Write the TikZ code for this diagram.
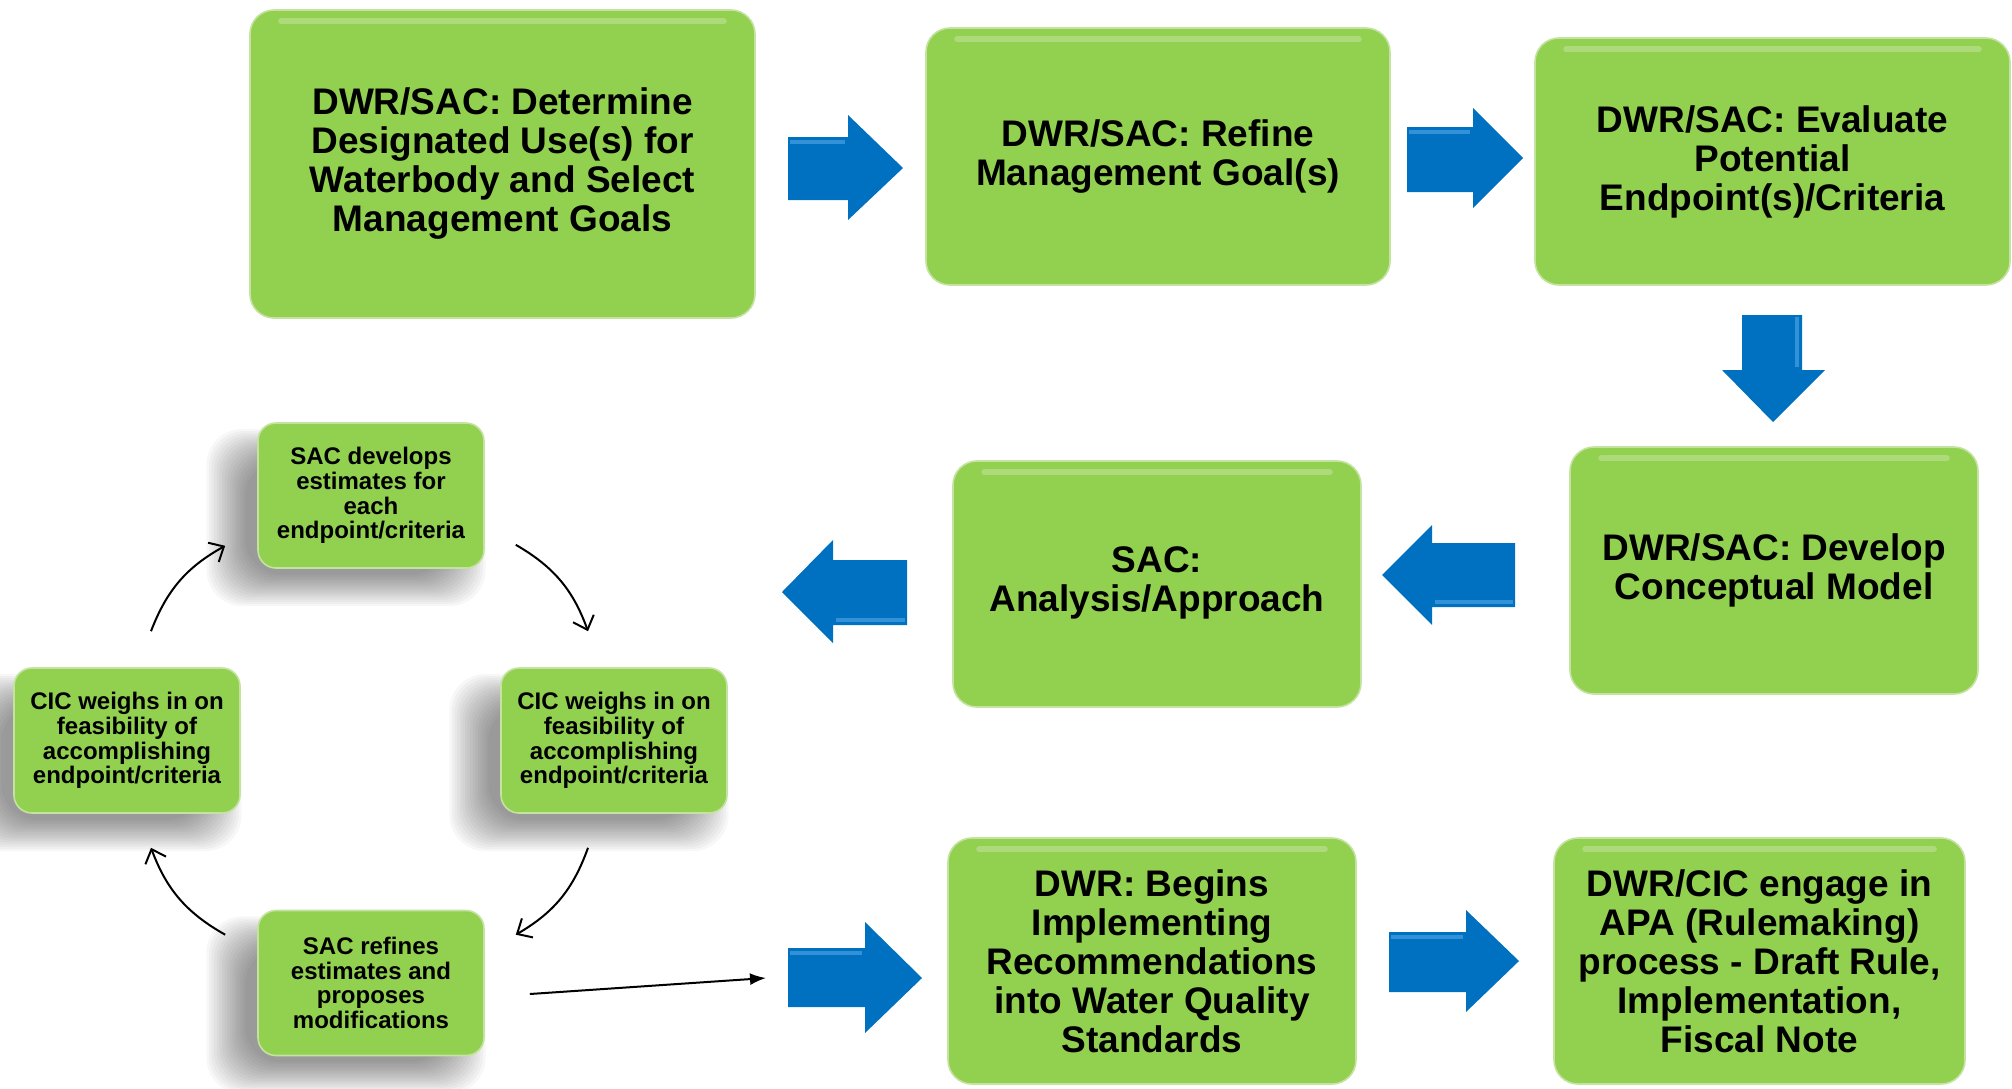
\documentclass[tikz,border=0pt]{standalone}
\usepackage{fontspec}
\setmainfont{Liberation Sans}
\usetikzlibrary{arrows.meta,calc}
\definecolor{boxgreen}{RGB}{146,208,80}
\definecolor{boxedge}{RGB}{196,226,160}
\definecolor{arrowblue}{RGB}{0,112,192}
\definecolor{arrowlight}{RGB}{50,145,215}

\begin{document}
\begin{tikzpicture}[x=0.5pt,y=-0.5pt,
    bigbox/.style={draw=boxedge, line width=0.8pt, fill=boxgreen, rounded corners=12pt,
      align=center, inner sep=0pt, font=\fontsize{18.5}{19.5}\selectfont\bfseries},
    smallbox/.style={draw=boxedge, line width=0.8pt, fill=boxgreen, rounded corners=9pt,
      align=center, inner sep=0pt, minimum width=113pt, minimum height=72.5pt,
      font=\fontsize{12}{12.4}\selectfont\bfseries},
    bluearrow/.style={fill=arrowblue},
    shine/.style={draw=arrowlight, line width=2pt},
    gloss/.style={white, opacity=.25, line width=3pt, line cap=round},
    cycarrow/.style={black, line width=1pt, -{Straight Barb[length=6pt,width=11pt]}, bend left=20},
  ]
  \useasboundingbox (0,0) rectangle (2012,1088);

  % soft shadows behind the cycle boxes
  \foreach \cx/\cy in {371/495.5, 127/740.5, 614/740.5, 371/983}
    \foreach \k in {1,...,16} {
      \pgfmathsetmacro\hw{98+2.6*\k}
      \pgfmathsetmacro\hh{55+2.1*\k}
      \fill[black, opacity=.03, rounded corners=18pt]
        (\cx-25-\hw, \cy+22-\hh) rectangle (\cx-25+\hw, \cy+22+\hh);
    }

  % main steps
  \node[bigbox, minimum width=252.5pt, minimum height=154pt] (goals) at (502.5,164)
    {DWR/SAC: Determine\\Designated Use(s) for\\Waterbody and Select\\Management Goals};
  \node[bigbox, minimum width=232pt, minimum height=128.5pt] (refine) at (1158,156.5)
    {DWR/SAC: Refine\\Management Goal(s)};
  \node[bigbox, minimum width=237.5pt, minimum height=123.5pt] (evaluate) at (1772.5,161.5)
    {DWR/SAC: Evaluate\\Potential\\Endpoint(s)/Criteria};
  \node[bigbox, minimum width=204pt, minimum height=123.5pt] (model) at (1774,570.5)
    {DWR/SAC: Develop\\Conceptual Model};
  \node[bigbox, minimum width=204pt, minimum height=123pt] (analysis) at (1157,584)
    {\raisebox{6pt}{\begin{tabular}{@{}c@{}}SAC:\\Analysis/Approach\end{tabular}}};
  \node[bigbox, minimum width=204pt, minimum height=123pt] (begins) at (1152,961)
    {DWR: Begins\\Implementing\\Recommendations\\into Water Quality\\Standards};
  \node[bigbox, minimum width=205.5pt, minimum height=123pt] (apa) at (1759.5,961)
    {DWR/CIC engage in\\APA (Rulemaking)\\process - Draft Rule,\\Implementation,\\Fiscal Note};

  \foreach \n in {goals,refine,evaluate,model,analysis,begins,apa}
    \draw[gloss] ([xshift=16pt,yshift=-6pt]\n.north west) -- ([xshift=-16pt,yshift=-6pt]\n.north east);

  % cycle
  \node[smallbox] (sacdev) at (371,495.5) {SAC develops\\estimates for\\each\\endpoint/criteria};
  \node[smallbox] (cicl) at (127,740.5) {CIC weighs in on\\feasibility of\\accomplishing\\endpoint/criteria};
  \node[smallbox] (cicr) at (614,740.5) {CIC weighs in on\\feasibility of\\accomplishing\\endpoint/criteria};
  \node[smallbox] (sacref) at (371,983) {SAC refines\\estimates and\\proposes\\modifications};

  \draw[cycarrow] ($(cicl.north)+(24,-36)$) to ($(sacdev.south west)+(-32,-23)$);
  \draw[cycarrow] ($(sacdev.south east)+(31,-24)$) to ($(cicr.north)+(-26,-36)$);
  \draw[cycarrow] ($(cicr.south)+(-26,34)$) to ($(sacref.north east)+(31,25)$);
  \draw[cycarrow] ($(sacref.north west)+(-32,25)$) to ($(cicl.south)+(24,34)$);

  % big blue arrows
  \fill[bluearrow] (788,137) -- (848,137) -- (848,115) -- (903,168) -- (848,220) -- (848,200) -- (788,200) -- cycle;
  \draw[shine] (790,142) -- (845,142);
  \fill[bluearrow] (1407,127) -- (1473,127) -- (1473,108) -- (1523,158) -- (1473,208) -- (1473,192) -- (1407,192) -- cycle;
  \draw[shine] (1409,132) -- (1470,132);
  \fill[bluearrow] (1742,315) -- (1802,315) -- (1802,370) -- (1825,370) -- (1773,422) -- (1722,370) -- (1742,370) -- cycle;
  \draw[shine] (1797,317) -- (1797,367);
  \fill[bluearrow] (1515,543) -- (1432,543) -- (1432,525) -- (1382,575) -- (1432,625) -- (1432,607) -- (1515,607) -- cycle;
  \draw[shine] (1435,602) -- (1513,602);
  \fill[bluearrow] (907,560) -- (833,560) -- (833,540) -- (782,592) -- (833,643) -- (833,625) -- (907,625) -- cycle;
  \draw[shine] (836,620) -- (905,620);
  \fill[bluearrow] (788,948) -- (865,948) -- (865,922) -- (922,978) -- (865,1033) -- (865,1007) -- (788,1007) -- cycle;
  \draw[shine] (790,953) -- (862,953);
  \fill[bluearrow] (1389,932) -- (1466,932) -- (1466,910) -- (1519,961) -- (1466,1012) -- (1466,992) -- (1389,992) -- cycle;
  \draw[shine] (1391,937) -- (1463,937);

  \coordinate (joinpt) at (766,978);
  \draw[black, line width=1pt, -{Latex[length=8pt,width=6pt]}] ($(sacref.east)+(45,11)$) -- (joinpt);
\end{tikzpicture}
\end{document}
